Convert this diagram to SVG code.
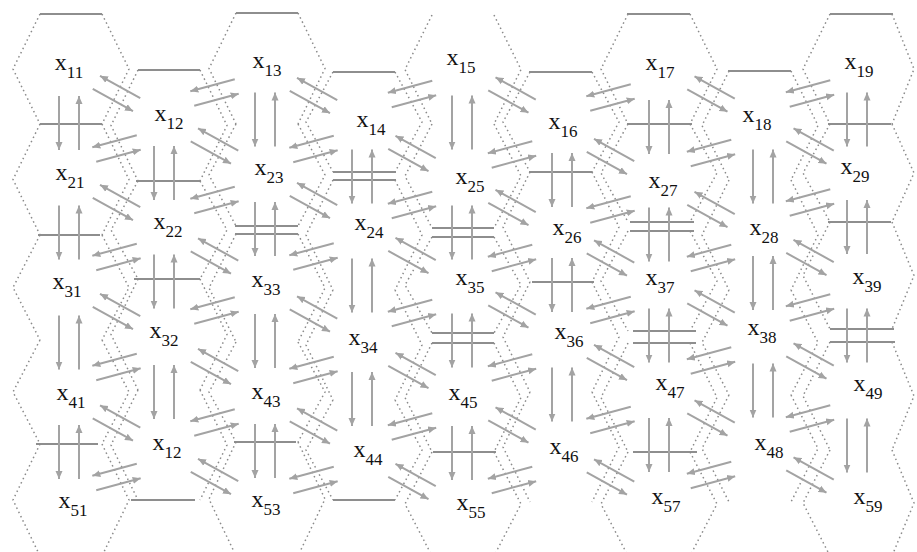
<svg xmlns="http://www.w3.org/2000/svg" width="917" height="552" viewBox="0 0 917 552">
<style>
.hex{fill:none;stroke:#8a8a8a;stroke-width:1.5;stroke-dasharray:1.5 3.2}
.edge{fill:none;stroke:#8e8e8e;stroke-width:2}
.lb{font-family:"Liberation Serif","Times New Roman",serif;font-size:24px;fill:#111;text-anchor:middle}
.sb{font-size:17px}
#conn line{stroke:#a3a3a3;stroke-width:2;marker-end:url(#ah)}
</style>
<defs>
<marker id="ah" markerUnits="userSpaceOnUse" markerWidth="9" markerHeight="8" refX="8" refY="4" orient="auto"><path d="M0,0.5 L8,4 L0,7.5 z" fill="#a3a3a3"/></marker>
</defs>
<rect width="917" height="552" fill="#fff"/>
<g id="nodes">
<g id="x11"><path class="hex" d="M40,14 L13,69 L40,124 M102,14 L129,69 L102,124"/><path class="edge" d="M40,14 H102 M40,124 H102"/><text class="lb" x="69" y="70">x<tspan class="sb" dy="8">11</tspan></text></g>
<g id="x21"><path class="hex" d="M40,124 L13,179.5 L40,235 M102,124 L129,179.5 L102,235"/><path class="edge" d="M38,235 H100"/><text class="lb" x="70" y="180">x<tspan class="sb" dy="8">21</tspan></text></g>
<g id="x31"><path class="hex" d="M40,235 L13,287.5 L40,340 M102,235 L129,287.5 L102,340"/><text class="lb" x="67" y="289">x<tspan class="sb" dy="8">31</tspan></text></g>
<g id="x41"><path class="hex" d="M40,340 L13,392 L40,444 M102,340 L129,392 L102,444"/><path class="edge" d="M36,444 H98"/><text class="lb" x="71" y="400">x<tspan class="sb" dy="8">41</tspan></text></g>
<g id="x51"><path class="hex" d="M40,444 L13,500 L40,556 M102,444 L129,500 L102,556"/><text class="lb" x="73" y="508">x<tspan class="sb" dy="8">51</tspan></text></g>

<g id="x12"><path class="hex" d="M138,70 L111,125.5 L138,181 M200,70 L227,125.5 L200,181"/><path class="edge" d="M138,70 H200 M136,181 H200"/><text class="lb" x="169" y="121">x<tspan class="sb" dy="8">12</tspan></text></g>
<g id="x22"><path class="hex" d="M138,181 L111,230 L138,279 M200,181 L227,230 L200,279"/><path class="edge" d="M134,279 H200"/><text class="lb" x="168" y="229">x<tspan class="sb" dy="8">22</tspan></text></g>
<g id="x32"><path class="hex" d="M138,279 L111,334.5 L138,390 M200,279 L227,334.5 L200,390"/><text class="lb" x="164" y="338">x<tspan class="sb" dy="8">32</tspan></text></g>
<g id="x42"><path class="hex" d="M138,390 L111,445 L138,500 M200,390 L227,445 L200,500"/><path class="edge" d="M131,500 H195"/><text class="lb" x="167" y="450">x<tspan class="sb" dy="8">12</tspan></text></g>

<g id="x13"><path class="hex" d="M236,13 L209,68.5 L236,124 M298,13 L325,68.5 L298,124"/><path class="edge" d="M236,13 H298"/><text class="lb" x="267" y="68">x<tspan class="sb" dy="8">13</tspan></text></g>
<g id="x23"><path class="hex" d="M236,124 L209,175 L236,226 M298,124 L325,175 L298,226"/><path class="edge" d="M235,226 H298"/><text class="lb" x="269" y="175">x<tspan class="sb" dy="8">23</tspan></text></g>
<g id="x33"><path class="hex" d="M236,234 L209,288 L236,342 M298,234 L325,288 L298,342"/><path class="edge" d="M235,234 H298"/><text class="lb" x="266" y="287">x<tspan class="sb" dy="8">33</tspan></text></g>
<g id="x43"><path class="hex" d="M236,342 L209,392 L236,442 M298,342 L325,392 L298,442"/><path class="edge" d="M234,442 H296"/><text class="lb" x="266" y="399">x<tspan class="sb" dy="8">43</tspan></text></g>
<g id="x53"><path class="hex" d="M236,442 L209,499 L236,556 M298,442 L325,499 L298,556"/><text class="lb" x="266" y="507">x<tspan class="sb" dy="8">53</tspan></text></g>

<g id="x14"><path class="hex" d="M333,72 L306,122 L333,172 M395,72 L422,122 L395,172"/><path class="edge" d="M333,72 H395 M333,172 H396"/><text class="lb" x="371" y="127">x<tspan class="sb" dy="8">14</tspan></text></g>
<g id="x24"><path class="hex" d="M333,180 L306,235 L333,290 M395,180 L422,235 L395,290"/><path class="edge" d="M333,180 H396"/><text class="lb" x="369" y="230">x<tspan class="sb" dy="8">24</tspan></text></g>
<g id="x34"><path class="hex" d="M333,290 L306,345 L333,400 M395,290 L422,345 L395,400"/><text class="lb" x="363" y="345">x<tspan class="sb" dy="8">34</tspan></text></g>
<g id="x44"><path class="hex" d="M333,400 L306,450 L333,500 M395,400 L422,450 L395,500"/><path class="edge" d="M333,500 H395"/><text class="lb" x="368" y="457">x<tspan class="sb" dy="8">44</tspan></text></g>

<g id="x15"><path class="hex" d="M432,15 L405,69.5 L432,124 M494,15 L521,69.5 L494,124"/><text class="lb" x="461" y="65">x<tspan class="sb" dy="8">15</tspan></text></g>
<g id="x25"><path class="hex" d="M432,124 L405,176 L432,228 M494,124 L521,176 L494,228"/><path class="edge" d="M432,228 H494"/><text class="lb" x="470" y="184">x<tspan class="sb" dy="8">25</tspan></text></g>
<g id="x35"><path class="hex" d="M432,237 L405,285 L432,333 M494,237 L521,285 L494,333"/><path class="edge" d="M432,237 H494 M432,333 H494"/><text class="lb" x="470" y="285">x<tspan class="sb" dy="8">35</tspan></text></g>
<g id="x45"><path class="hex" d="M432,343 L405,397.5 L432,452 M494,343 L521,397.5 L494,452"/><path class="edge" d="M432,343 H494 M433,452 H496"/><text class="lb" x="463" y="400">x<tspan class="sb" dy="8">45</tspan></text></g>
<g id="x55"><path class="hex" d="M432,452 L405,504 L432,556 M494,452 L521,504 L494,556"/><text class="lb" x="471" y="510">x<tspan class="sb" dy="8">55</tspan></text></g>

<g id="x16"><path class="hex" d="M530,72 L503,122 L530,172 M592,72 L619,122 L592,172"/><path class="edge" d="M529,72 H592 M529,172 H592"/><text class="lb" x="563" y="129">x<tspan class="sb" dy="8">16</tspan></text></g>
<g id="x26"><path class="hex" d="M530,172 L503,227 L530,282 M592,172 L619,227 L592,282"/><path class="edge" d="M532,282 H594"/><text class="lb" x="567" y="235">x<tspan class="sb" dy="8">26</tspan></text></g>
<g id="x36"><path class="hex" d="M530,282 L503,337 L530,392 M592,282 L619,337 L592,392"/><text class="lb" x="569" y="339">x<tspan class="sb" dy="8">36</tspan></text></g>
<g id="x46"><path class="hex" d="M530,392 L503,447 L530,502 M592,392 L619,447 L592,502"/><text class="lb" x="564" y="454">x<tspan class="sb" dy="8">46</tspan></text></g>

<g id="x17"><path class="hex" d="M628,14 L601,69 L628,124 M690,14 L717,69 L690,124"/><path class="edge" d="M627,14 H690 M627,124 H692"/><text class="lb" x="660" y="70">x<tspan class="sb" dy="8">17</tspan></text></g>
<g id="x27"><path class="hex" d="M628,124 L601,173 L628,222 M690,124 L717,173 L690,222"/><path class="edge" d="M630,222 H694"/><text class="lb" x="663" y="188">x<tspan class="sb" dy="8">27</tspan></text></g>
<g id="x37"><path class="hex" d="M628,231 L601,281 L628,331 M690,231 L717,281 L690,331"/><path class="edge" d="M630,231 H694 M633,331 H696"/><text class="lb" x="660" y="285">x<tspan class="sb" dy="8">37</tspan></text></g>
<g id="x47"><path class="hex" d="M628,343 L601,397.5 L628,452 M690,343 L717,397.5 L690,452"/><path class="edge" d="M633,343 H696 M633,452 H697"/><text class="lb" x="670" y="390">x<tspan class="sb" dy="8">47</tspan></text></g>
<g id="x57"><path class="hex" d="M628,452 L601,504 L628,556 M690,452 L717,504 L690,556"/><text class="lb" x="666" y="504">x<tspan class="sb" dy="8">57</tspan></text></g>

<g id="x18"><path class="hex" d="M729,71 L702,125.5 L729,180 M791,71 L818,125.5 L791,180"/><path class="edge" d="M728,71 H791"/><text class="lb" x="757" y="122">x<tspan class="sb" dy="8">18</tspan></text></g>
<g id="x28"><path class="hex" d="M729,180 L702,235 L729,290 M791,180 L818,235 L791,290"/><text class="lb" x="764" y="235">x<tspan class="sb" dy="8">28</tspan></text></g>
<g id="x38"><path class="hex" d="M729,290 L702,342.5 L729,395 M791,290 L818,342.5 L791,395"/><text class="lb" x="762" y="335">x<tspan class="sb" dy="8">38</tspan></text></g>
<g id="x48"><path class="hex" d="M729,395 L702,448.5 L729,502 M791,395 L818,448.5 L791,502"/><text class="lb" x="769" y="450">x<tspan class="sb" dy="8">48</tspan></text></g>

<g id="x19"><path class="hex" d="M830,14 L803,69 L830,124 M892,14 L914,69 L892,124"/><path class="edge" d="M830,14 H893 M828,124 H891"/><text class="lb" x="859" y="69">x<tspan class="sb" dy="8">19</tspan></text></g>
<g id="x29"><path class="hex" d="M830,124 L803,173 L830,222 M892,124 L914,173 L892,222"/><path class="edge" d="M828,222 H891"/><text class="lb" x="855" y="174">x<tspan class="sb" dy="8">29</tspan></text></g>
<g id="x39"><path class="hex" d="M830,222 L803,275.5 L830,329 M892,222 L914,275.5 L892,329"/><path class="edge" d="M830,329 H894"/><text class="lb" x="867" y="284">x<tspan class="sb" dy="8">39</tspan></text></g>
<g id="x49"><path class="hex" d="M830,342 L803,396 L830,450 M892,342 L914,396 L892,450"/><path class="edge" d="M830,342 H895"/><text class="lb" x="868" y="391">x<tspan class="sb" dy="8">49</tspan></text></g>
<g id="x59"><path class="hex" d="M830,450 L803,503 L830,556 M892,450 L914,503 L892,556"/><text class="lb" x="868" y="504">x<tspan class="sb" dy="8">59</tspan></text></g>
</g>

<g id="conn">
<g transform="translate(69,123) rotate(90)"><line x1="-27" y1="10" x2="27" y2="10"/><line x1="27" y1="-10" x2="-27" y2="-10"/></g>
<g transform="translate(69,232.5) rotate(90)"><line x1="-27" y1="10" x2="27" y2="10"/><line x1="27" y1="-10" x2="-27" y2="-10"/></g>
<g transform="translate(69,342.5) rotate(90)"><line x1="-27" y1="10" x2="27" y2="10"/><line x1="27" y1="-10" x2="-27" y2="-10"/></g>
<g transform="translate(69,452) rotate(90)"><line x1="-27" y1="10" x2="27" y2="10"/><line x1="27" y1="-10" x2="-27" y2="-10"/></g>
<g transform="translate(164,173) rotate(90)"><line x1="-27" y1="10" x2="27" y2="10"/><line x1="27" y1="-10" x2="-27" y2="-10"/></g>
<g transform="translate(164,281.5) rotate(90)"><line x1="-27" y1="10" x2="27" y2="10"/><line x1="27" y1="-10" x2="-27" y2="-10"/></g>
<g transform="translate(164,392) rotate(90)"><line x1="-27" y1="10" x2="27" y2="10"/><line x1="27" y1="-10" x2="-27" y2="-10"/></g>
<g transform="translate(265,119.5) rotate(90)"><line x1="-27" y1="10" x2="27" y2="10"/><line x1="27" y1="-10" x2="-27" y2="-10"/></g>
<g transform="translate(265,229) rotate(90)"><line x1="-27" y1="10" x2="27" y2="10"/><line x1="27" y1="-10" x2="-27" y2="-10"/></g>
<g transform="translate(265,341) rotate(90)"><line x1="-27" y1="10" x2="27" y2="10"/><line x1="27" y1="-10" x2="-27" y2="-10"/></g>
<g transform="translate(265,451) rotate(90)"><line x1="-27" y1="10" x2="27" y2="10"/><line x1="27" y1="-10" x2="-27" y2="-10"/></g>
<g transform="translate(362,176.5) rotate(90)"><line x1="-27" y1="10" x2="27" y2="10"/><line x1="27" y1="-10" x2="-27" y2="-10"/></g>
<g transform="translate(362,285.5) rotate(90)"><line x1="-27" y1="10" x2="27" y2="10"/><line x1="27" y1="-10" x2="-27" y2="-10"/></g>
<g transform="translate(362,399) rotate(90)"><line x1="-27" y1="10" x2="27" y2="10"/><line x1="27" y1="-10" x2="-27" y2="-10"/></g>
<g transform="translate(462,122.5) rotate(90)"><line x1="-27" y1="10" x2="27" y2="10"/><line x1="27" y1="-10" x2="-27" y2="-10"/></g>
<g transform="translate(462,232.5) rotate(90)"><line x1="-27" y1="10" x2="27" y2="10"/><line x1="27" y1="-10" x2="-27" y2="-10"/></g>
<g transform="translate(462,340.5) rotate(90)"><line x1="-27" y1="10" x2="27" y2="10"/><line x1="27" y1="-10" x2="-27" y2="-10"/></g>
<g transform="translate(462,453) rotate(90)"><line x1="-27" y1="10" x2="27" y2="10"/><line x1="27" y1="-10" x2="-27" y2="-10"/></g>
<g transform="translate(562,180) rotate(90)"><line x1="-27" y1="10" x2="27" y2="10"/><line x1="27" y1="-10" x2="-27" y2="-10"/></g>
<g transform="translate(562,285) rotate(90)"><line x1="-27" y1="10" x2="27" y2="10"/><line x1="27" y1="-10" x2="-27" y2="-10"/></g>
<g transform="translate(562,394.5) rotate(90)"><line x1="-27" y1="10" x2="27" y2="10"/><line x1="27" y1="-10" x2="-27" y2="-10"/></g>
<g transform="translate(659,127) rotate(90)"><line x1="-27" y1="10" x2="27" y2="10"/><line x1="27" y1="-10" x2="-27" y2="-10"/></g>
<g transform="translate(659,234.5) rotate(90)"><line x1="-27" y1="10" x2="27" y2="10"/><line x1="27" y1="-10" x2="-27" y2="-10"/></g>
<g transform="translate(659,335.5) rotate(90)"><line x1="-27" y1="10" x2="27" y2="10"/><line x1="27" y1="-10" x2="-27" y2="-10"/></g>
<g transform="translate(659,445) rotate(90)"><line x1="-27" y1="10" x2="27" y2="10"/><line x1="27" y1="-10" x2="-27" y2="-10"/></g>
<g transform="translate(763,176.5) rotate(90)"><line x1="-27" y1="10" x2="27" y2="10"/><line x1="27" y1="-10" x2="-27" y2="-10"/></g>
<g transform="translate(763,283) rotate(90)"><line x1="-27" y1="10" x2="27" y2="10"/><line x1="27" y1="-10" x2="-27" y2="-10"/></g>
<g transform="translate(763,390.5) rotate(90)"><line x1="-27" y1="10" x2="27" y2="10"/><line x1="27" y1="-10" x2="-27" y2="-10"/></g>
<g transform="translate(857,119.5) rotate(90)"><line x1="-27" y1="10" x2="27" y2="10"/><line x1="27" y1="-10" x2="-27" y2="-10"/></g>
<g transform="translate(857,227) rotate(90)"><line x1="-27" y1="10" x2="27" y2="10"/><line x1="27" y1="-10" x2="-27" y2="-10"/></g>
<g transform="translate(857,335.5) rotate(90)"><line x1="-27" y1="10" x2="27" y2="10"/><line x1="27" y1="-10" x2="-27" y2="-10"/></g>
<g transform="translate(857,445.5) rotate(90)"><line x1="-27" y1="10" x2="27" y2="10"/><line x1="27" y1="-10" x2="-27" y2="-10"/></g>
<g transform="translate(116.5,93.5) rotate(29)"><line x1="-23" y1="7.5" x2="23" y2="7.5"/><line x1="23" y1="-7.5" x2="-23" y2="-7.5"/></g>
<g transform="translate(116.5,202.5) rotate(29)"><line x1="-23" y1="7.5" x2="23" y2="7.5"/><line x1="23" y1="-7.5" x2="-23" y2="-7.5"/></g>
<g transform="translate(116.5,311.5) rotate(29)"><line x1="-23" y1="7.5" x2="23" y2="7.5"/><line x1="23" y1="-7.5" x2="-23" y2="-7.5"/></g>
<g transform="translate(116.5,423) rotate(29)"><line x1="-23" y1="7.5" x2="23" y2="7.5"/><line x1="23" y1="-7.5" x2="-23" y2="-7.5"/></g>
<g transform="translate(214.5,146) rotate(29)"><line x1="-23" y1="7.5" x2="23" y2="7.5"/><line x1="23" y1="-7.5" x2="-23" y2="-7.5"/></g>
<g transform="translate(214.5,256) rotate(29)"><line x1="-23" y1="7.5" x2="23" y2="7.5"/><line x1="23" y1="-7.5" x2="-23" y2="-7.5"/></g>
<g transform="translate(214.5,366.5) rotate(29)"><line x1="-23" y1="7.5" x2="23" y2="7.5"/><line x1="23" y1="-7.5" x2="-23" y2="-7.5"/></g>
<g transform="translate(214.5,476.5) rotate(29)"><line x1="-23" y1="7.5" x2="23" y2="7.5"/><line x1="23" y1="-7.5" x2="-23" y2="-7.5"/></g>
<g transform="translate(313.5,95.5) rotate(29)"><line x1="-23" y1="7.5" x2="23" y2="7.5"/><line x1="23" y1="-7.5" x2="-23" y2="-7.5"/></g>
<g transform="translate(313.5,200.5) rotate(29)"><line x1="-23" y1="7.5" x2="23" y2="7.5"/><line x1="23" y1="-7.5" x2="-23" y2="-7.5"/></g>
<g transform="translate(313.5,314) rotate(29)"><line x1="-23" y1="7.5" x2="23" y2="7.5"/><line x1="23" y1="-7.5" x2="-23" y2="-7.5"/></g>
<g transform="translate(313.5,426) rotate(29)"><line x1="-23" y1="7.5" x2="23" y2="7.5"/><line x1="23" y1="-7.5" x2="-23" y2="-7.5"/></g>
<g transform="translate(412,153.5) rotate(29)"><line x1="-23" y1="7.5" x2="23" y2="7.5"/><line x1="23" y1="-7.5" x2="-23" y2="-7.5"/></g>
<g transform="translate(412,255.5) rotate(29)"><line x1="-23" y1="7.5" x2="23" y2="7.5"/><line x1="23" y1="-7.5" x2="-23" y2="-7.5"/></g>
<g transform="translate(412,370.5) rotate(29)"><line x1="-23" y1="7.5" x2="23" y2="7.5"/><line x1="23" y1="-7.5" x2="-23" y2="-7.5"/></g>
<g transform="translate(412,481.5) rotate(29)"><line x1="-23" y1="7.5" x2="23" y2="7.5"/><line x1="23" y1="-7.5" x2="-23" y2="-7.5"/></g>
<g transform="translate(512,95) rotate(29)"><line x1="-23" y1="7.5" x2="23" y2="7.5"/><line x1="23" y1="-7.5" x2="-23" y2="-7.5"/></g>
<g transform="translate(512,207.5) rotate(29)"><line x1="-23" y1="7.5" x2="23" y2="7.5"/><line x1="23" y1="-7.5" x2="-23" y2="-7.5"/></g>
<g transform="translate(512,310) rotate(29)"><line x1="-23" y1="7.5" x2="23" y2="7.5"/><line x1="23" y1="-7.5" x2="-23" y2="-7.5"/></g>
<g transform="translate(512,425) rotate(29)"><line x1="-23" y1="7.5" x2="23" y2="7.5"/><line x1="23" y1="-7.5" x2="-23" y2="-7.5"/></g>
<g transform="translate(610.5,156.5) rotate(29)"><line x1="-23" y1="7.5" x2="23" y2="7.5"/><line x1="23" y1="-7.5" x2="-23" y2="-7.5"/></g>
<g transform="translate(610.5,258) rotate(29)"><line x1="-23" y1="7.5" x2="23" y2="7.5"/><line x1="23" y1="-7.5" x2="-23" y2="-7.5"/></g>
<g transform="translate(610.5,362.5) rotate(29)"><line x1="-23" y1="7.5" x2="23" y2="7.5"/><line x1="23" y1="-7.5" x2="-23" y2="-7.5"/></g>
<g transform="translate(610.5,477) rotate(29)"><line x1="-23" y1="7.5" x2="23" y2="7.5"/><line x1="23" y1="-7.5" x2="-23" y2="-7.5"/></g>
<g transform="translate(711,94) rotate(29)"><line x1="-23" y1="7.5" x2="23" y2="7.5"/><line x1="23" y1="-7.5" x2="-23" y2="-7.5"/></g>
<g transform="translate(711,209.5) rotate(29)"><line x1="-23" y1="7.5" x2="23" y2="7.5"/><line x1="23" y1="-7.5" x2="-23" y2="-7.5"/></g>
<g transform="translate(711,308) rotate(29)"><line x1="-23" y1="7.5" x2="23" y2="7.5"/><line x1="23" y1="-7.5" x2="-23" y2="-7.5"/></g>
<g transform="translate(711,418) rotate(29)"><line x1="-23" y1="7.5" x2="23" y2="7.5"/><line x1="23" y1="-7.5" x2="-23" y2="-7.5"/></g>
<g transform="translate(810,146) rotate(29)"><line x1="-23" y1="7.5" x2="23" y2="7.5"/><line x1="23" y1="-7.5" x2="-23" y2="-7.5"/></g>
<g transform="translate(810,257.5) rotate(29)"><line x1="-23" y1="7.5" x2="23" y2="7.5"/><line x1="23" y1="-7.5" x2="-23" y2="-7.5"/></g>
<g transform="translate(810,361) rotate(29)"><line x1="-23" y1="7.5" x2="23" y2="7.5"/><line x1="23" y1="-7.5" x2="-23" y2="-7.5"/></g>
<g transform="translate(810,475) rotate(29)"><line x1="-23" y1="7.5" x2="23" y2="7.5"/><line x1="23" y1="-7.5" x2="-23" y2="-7.5"/></g>
<g transform="translate(116.5,148.5) rotate(-15)"><line x1="-23" y1="7.5" x2="23" y2="7.5"/><line x1="23" y1="-7.5" x2="-23" y2="-7.5"/></g>
<g transform="translate(116.5,257) rotate(-15)"><line x1="-23" y1="7.5" x2="23" y2="7.5"/><line x1="23" y1="-7.5" x2="-23" y2="-7.5"/></g>
<g transform="translate(116.5,367) rotate(-15)"><line x1="-23" y1="7.5" x2="23" y2="7.5"/><line x1="23" y1="-7.5" x2="-23" y2="-7.5"/></g>
<g transform="translate(116.5,477) rotate(-15)"><line x1="-23" y1="7.5" x2="23" y2="7.5"/><line x1="23" y1="-7.5" x2="-23" y2="-7.5"/></g>
<g transform="translate(214.5,92.5) rotate(-15)"><line x1="-23" y1="7.5" x2="23" y2="7.5"/><line x1="23" y1="-7.5" x2="-23" y2="-7.5"/></g>
<g transform="translate(214.5,200) rotate(-15)"><line x1="-23" y1="7.5" x2="23" y2="7.5"/><line x1="23" y1="-7.5" x2="-23" y2="-7.5"/></g>
<g transform="translate(214.5,310.5) rotate(-15)"><line x1="-23" y1="7.5" x2="23" y2="7.5"/><line x1="23" y1="-7.5" x2="-23" y2="-7.5"/></g>
<g transform="translate(214.5,422.5) rotate(-15)"><line x1="-23" y1="7.5" x2="23" y2="7.5"/><line x1="23" y1="-7.5" x2="-23" y2="-7.5"/></g>
<g transform="translate(313.5,149) rotate(-15)"><line x1="-23" y1="7.5" x2="23" y2="7.5"/><line x1="23" y1="-7.5" x2="-23" y2="-7.5"/></g>
<g transform="translate(313.5,256.5) rotate(-15)"><line x1="-23" y1="7.5" x2="23" y2="7.5"/><line x1="23" y1="-7.5" x2="-23" y2="-7.5"/></g>
<g transform="translate(313.5,370) rotate(-15)"><line x1="-23" y1="7.5" x2="23" y2="7.5"/><line x1="23" y1="-7.5" x2="-23" y2="-7.5"/></g>
<g transform="translate(313.5,480) rotate(-15)"><line x1="-23" y1="7.5" x2="23" y2="7.5"/><line x1="23" y1="-7.5" x2="-23" y2="-7.5"/></g>
<g transform="translate(412,94) rotate(-15)"><line x1="-23" y1="7.5" x2="23" y2="7.5"/><line x1="23" y1="-7.5" x2="-23" y2="-7.5"/></g>
<g transform="translate(412,205) rotate(-15)"><line x1="-23" y1="7.5" x2="23" y2="7.5"/><line x1="23" y1="-7.5" x2="-23" y2="-7.5"/></g>
<g transform="translate(412,313) rotate(-15)"><line x1="-23" y1="7.5" x2="23" y2="7.5"/><line x1="23" y1="-7.5" x2="-23" y2="-7.5"/></g>
<g transform="translate(412,426.5) rotate(-15)"><line x1="-23" y1="7.5" x2="23" y2="7.5"/><line x1="23" y1="-7.5" x2="-23" y2="-7.5"/></g>
<g transform="translate(512,154.5) rotate(-15)"><line x1="-23" y1="7.5" x2="23" y2="7.5"/><line x1="23" y1="-7.5" x2="-23" y2="-7.5"/></g>
<g transform="translate(512,258) rotate(-15)"><line x1="-23" y1="7.5" x2="23" y2="7.5"/><line x1="23" y1="-7.5" x2="-23" y2="-7.5"/></g>
<g transform="translate(512,367.5) rotate(-15)"><line x1="-23" y1="7.5" x2="23" y2="7.5"/><line x1="23" y1="-7.5" x2="-23" y2="-7.5"/></g>
<g transform="translate(512,480) rotate(-15)"><line x1="-23" y1="7.5" x2="23" y2="7.5"/><line x1="23" y1="-7.5" x2="-23" y2="-7.5"/></g>
<g transform="translate(610.5,97.5) rotate(-15)"><line x1="-23" y1="7.5" x2="23" y2="7.5"/><line x1="23" y1="-7.5" x2="-23" y2="-7.5"/></g>
<g transform="translate(610.5,209.5) rotate(-15)"><line x1="-23" y1="7.5" x2="23" y2="7.5"/><line x1="23" y1="-7.5" x2="-23" y2="-7.5"/></g>
<g transform="translate(610.5,310) rotate(-15)"><line x1="-23" y1="7.5" x2="23" y2="7.5"/><line x1="23" y1="-7.5" x2="-23" y2="-7.5"/></g>
<g transform="translate(610.5,420) rotate(-15)"><line x1="-23" y1="7.5" x2="23" y2="7.5"/><line x1="23" y1="-7.5" x2="-23" y2="-7.5"/></g>
<g transform="translate(711,153) rotate(-15)"><line x1="-23" y1="7.5" x2="23" y2="7.5"/><line x1="23" y1="-7.5" x2="-23" y2="-7.5"/></g>
<g transform="translate(711,258) rotate(-15)"><line x1="-23" y1="7.5" x2="23" y2="7.5"/><line x1="23" y1="-7.5" x2="-23" y2="-7.5"/></g>
<g transform="translate(711,360.5) rotate(-15)"><line x1="-23" y1="7.5" x2="23" y2="7.5"/><line x1="23" y1="-7.5" x2="-23" y2="-7.5"/></g>
<g transform="translate(711,475) rotate(-15)"><line x1="-23" y1="7.5" x2="23" y2="7.5"/><line x1="23" y1="-7.5" x2="-23" y2="-7.5"/></g>
<g transform="translate(810,93.5) rotate(-15)"><line x1="-23" y1="7.5" x2="23" y2="7.5"/><line x1="23" y1="-7.5" x2="-23" y2="-7.5"/></g>
<g transform="translate(810,202.5) rotate(-15)"><line x1="-23" y1="7.5" x2="23" y2="7.5"/><line x1="23" y1="-7.5" x2="-23" y2="-7.5"/></g>
<g transform="translate(810,307.5) rotate(-15)"><line x1="-23" y1="7.5" x2="23" y2="7.5"/><line x1="23" y1="-7.5" x2="-23" y2="-7.5"/></g>
<g transform="translate(810,418.5) rotate(-15)"><line x1="-23" y1="7.5" x2="23" y2="7.5"/><line x1="23" y1="-7.5" x2="-23" y2="-7.5"/></g>
</g>
</svg>
